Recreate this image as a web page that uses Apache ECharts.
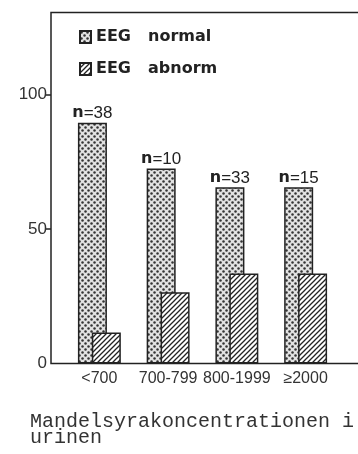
<!DOCTYPE html>
<html>
<head>
<meta charset="utf-8">
<script src="https://cdn.jsdelivr.net/npm/echarts@6.0.0/dist/echarts.min.js"></script>
<style>
  html, body { margin: 0; padding: 0; background: #fff; }
  #chart { width: 358px; height: 454px; }
</style>
</head>
<body>
<div id="chart"></div>
<script>
const categories = ['<700', '700-799', '800-1999', '≥2000']
const nValues = [38, 10, 33, 15]
const normalValues = [89.5, 72.5, 65.5, 65.5]
const abnormValues = [11.5, 26.5, 33.5, 33.5]
const yLabelValues = [0, 50, 100]
const yTickValues = [50, 100]

// fill patterns for the scanned look
function makePattern(size, draw) {
  const c = document.createElement('canvas')
  c.width = size
  c.height = size
  const ctx = c.getContext('2d')
  ctx.fillStyle = '#fff'
  ctx.fillRect(0, 0, size, size)
  draw(ctx, size)
  return { image: c, repeat: 'repeat' }
}

const dots = makePattern(6, (ctx) => {
  ctx.fillStyle = '#e2e2e2'
  ctx.fillRect(0, 0, 6, 6)
  ctx.fillStyle = '#333'
  ;[[1.5, 1.5], [4.5, 4.5]].forEach(([x, y]) => {
    ctx.beginPath()
    ctx.arc(x, y, 1.25, 0, Math.PI * 2)
    ctx.fill()
  })
})

const hatch = makePattern(5, (ctx, s) => {
  ctx.strokeStyle = '#222'
  ctx.lineWidth = 1.3
  ctx.beginPath()
  ctx.moveTo(0, s); ctx.lineTo(s, 0)
  ctx.moveTo(-1, 1); ctx.lineTo(1, -1)
  ctx.moveTo(s - 1, s + 1); ctx.lineTo(s + 1, s - 1)
  ctx.stroke()
})

var myChart = echarts.init(document.getElementById('chart'))

const option = {
  backgroundColor: '#fff',
  animation: false,
  title: {
    text: 'Mandelsyrakoncentrationen i\nurinen',
    left: 30,
    top: 414,
    padding: 0,
    textStyle: {
      fontFamily: 'Liberation Mono',
      fontSize: 20,
      fontWeight: 'normal',
      lineHeight: 16,
      color: '#333',
    },
  },
  legend: {
    orient: 'vertical',
    left: 79,
    top: 29,
    padding: 0,
    itemWidth: 11,
    itemHeight: 12,
    itemGap: 16,
    icon: 'rect',
    data: ['EEG normal', 'EEG abnorm'],
    // the original print is very widely spaced, so push the second word out a bit
    formatter: (name) => {
      const [a, b] = name.split(' ')
      return '{a|' + a + ' }{b|' + b + '}'
    },
    textStyle: {
      fontFamily: 'DejaVu Sans',
      fontWeight: 'bold',
      fontSize: 16,
      color: '#222',
      rich: {
        a: { fontFamily: 'DejaVu Sans', fontWeight: 'bold', fontSize: 16, color: '#222', width: 52 },
        b: { fontFamily: 'DejaVu Sans', fontWeight: 'bold', fontSize: 16, color: '#222' },
      },
    },
  },
  grid: [
    { left: 65, width: 275, top: 12.5, bottom: 90.5, outerBoundsMode: 'none' },
    {
      left: 51, right: -10, top: 12.5, bottom: 90.5, outerBoundsMode: 'none',
      show: true, borderColor: '#222', borderWidth: 1.5, backgroundColor: 'transparent',
    },
  ],
  xAxis: [
    {
      type: 'category',
      gridIndex: 0,
      data: categories,
      axisLine: { show: false },
      axisTick: { show: false },
      axisLabel: {
        interval: 0,
        margin: 7,
        fontFamily: 'Liberation Sans',
        fontSize: 16,
        color: '#333',
      },
    },
    { type: 'value', gridIndex: 1, show: false },
  ],
  yAxis: [
    {
      type: 'value',
      gridIndex: 0,
      min: 0,
      max: 130.5,
      offset: 14,
      splitLine: { show: false },
      axisLine: { show: false },
      axisTick: {
        show: true,
        length: 5,
        customValues: yTickValues,
        lineStyle: { color: '#222', width: 1.5 },
      },
      axisLabel: {
        margin: 4,
        customValues: yLabelValues,
        fontFamily: 'Liberation Sans',
        fontSize: 17,
        color: '#333',
      },
    },
    { type: 'value', gridIndex: 1, show: false },
  ],
  series: [
    {
      name: 'EEG normal',
      type: 'bar',
      data: normalValues,
      barWidth: 29,
      barGap: '-52%',
      itemStyle: { color: dots, borderColor: '#222', borderWidth: 1.5 },
      label: {
        show: true,
        position: 'top',
        distance: 1,
        formatter: (p) => '{b|n}{r|=' + nValues[p.dataIndex] + '}',
        rich: {
          b: { fontFamily: 'DejaVu Sans', fontWeight: 'bold', fontSize: 16, color: '#222' },
          r: { fontFamily: 'Liberation Sans', fontSize: 17, color: '#222' },
        },
      },
    },
    {
      name: 'EEG abnorm',
      type: 'bar',
      data: abnormValues,
      barWidth: 29,
      barGap: '-52%',
      itemStyle: { color: hatch, borderColor: '#222', borderWidth: 1.5 },
    },
  ],
}

myChart.setOption(option)
</script>
</body>
</html>
